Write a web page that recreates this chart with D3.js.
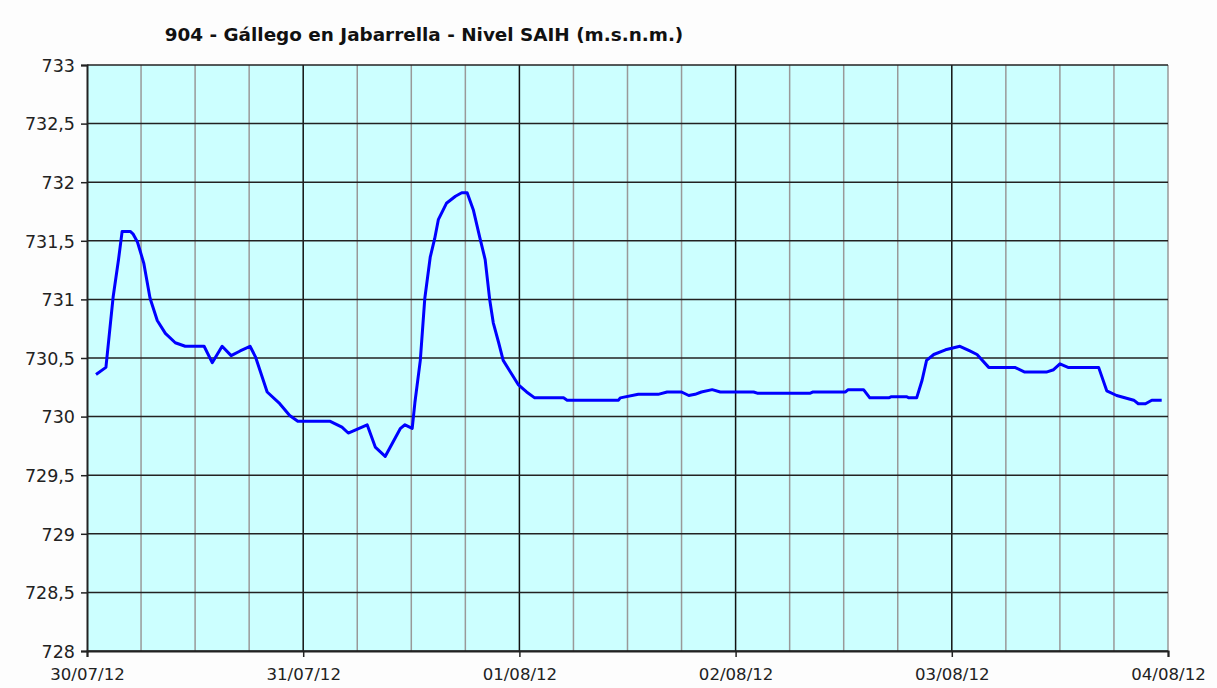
<!DOCTYPE html>
<html lang="es">
<head>
    <meta charset="UTF-8">
    <script src="https://cdn.jsdelivr.net/npm/d3@7"></script>
    <style>
        * { margin: 0; padding: 0; }
        body { background-color: #fdfdfd; font-family: "DejaVu Sans", Verdana, sans-serif; }
        svg { display: block; }
        .title { font-weight: bold; font-size: 18.4px; fill: #111; }
        .tick text { font-size: 16.6px; fill: #222; }
        .yax .tick text { font-size: 17.5px; }
    </style>
    <title>904 - Gállego en Jabarrella - Nivel SAIH</title>
</head>
<body>
<div id="chart"></div>
<script>
    // horas desde 30/07/12 00:00 y nivel (m.s.n.m.)
    var hours = [1.0, 2.1, 2.9, 3.5, 3.9, 4.8, 5.1, 5.6, 6.3, 7.0, 7.8, 8.7, 9.8, 10.9, 13.0, 13.9,
        15.0, 16.0, 17.0, 18.1, 18.7, 20.0, 21.4, 22.5, 23.4, 27.0, 28.3, 29.0, 31.1, 32.0, 33.1,
        34.8, 35.3, 36.1, 36.4, 37.0, 37.5, 38.1, 38.6, 39.0, 39.9, 40.9, 41.6, 42.2, 42.9, 43.6,
        44.2, 44.7, 45.1, 45.7, 46.2, 47.0, 47.9, 48.8, 49.7, 52.9, 53.3, 59.0, 59.2, 61.2, 63.4,
        64.4, 66.0, 66.8, 67.5, 68.2, 69.4, 70.3, 74.0, 74.4, 80.3, 80.6, 84.2, 84.5, 86.2, 86.9,
        89.0, 89.3, 91.0, 91.2, 92.1, 92.7, 93.2, 94.0, 95.3, 96.9, 98.0, 98.8, 100.1, 103.0,
        104.1, 106.5, 107.3, 108.0, 108.9, 112.3, 113.2, 114.3, 116.2, 116.7, 117.5, 118.2, 119.3];
    var levels = [730.36, 730.42, 731.02, 731.34, 731.58, 731.58, 731.56, 731.49, 731.31, 731.01,
        730.82, 730.71, 730.63, 730.60, 730.60, 730.46, 730.60, 730.52, 730.56, 730.60, 730.51,
        730.21, 730.11, 730.01, 729.96, 729.96, 729.91, 729.86, 729.93, 729.74, 729.66, 729.90,
        729.93, 729.90, 730.12, 730.48, 731.01, 731.36, 731.52, 731.68, 731.82, 731.88, 731.91,
        731.91, 731.76, 731.53, 731.34, 731.00, 730.80, 730.63, 730.48, 730.38, 730.27, 730.21,
        730.16, 730.16, 730.14, 730.14, 730.16, 730.19, 730.19, 730.21, 730.21, 730.18, 730.19,
        730.21, 730.23, 730.21, 730.21, 730.20, 730.20, 730.21, 730.21, 730.23, 730.23, 730.16,
        730.16, 730.17, 730.17, 730.16, 730.16, 730.31, 730.48, 730.53, 730.57, 730.60, 730.56,
        730.53, 730.42, 730.42, 730.38, 730.38, 730.40, 730.45, 730.42, 730.42, 730.22, 730.18,
        730.14, 730.11, 730.11, 730.14, 730.14];
    var yTicks = [728, 728.5, 729, 729.5, 730, 730.5, 731, 731.5, 732, 732.5, 733];
    var titleText = "904 - Gállego en Jabarrella - Nivel SAIH (m.s.n.m.)";

    var w = 1217, h = 688;
    var mLeft = 87, mRight = 1168, mTop = 65, mBottom = 651;

    var start = new Date(2012, 6, 30);
    var end = new Date(2012, 7, 4);

    var data = hours.map(function(hr, i) {
        return { date: new Date(start.getTime() + hr * 3600000), v: levels[i] };
    });

    var xScale = d3.scaleTime().domain([start, end]).range([mLeft, mRight]);
    var yScale = d3.scaleLinear().domain([728, 733]).range([mBottom, mTop]);

    var svg = d3.select("#chart").append("svg")
        .attr("width", w)
        .attr("height", h);

    // fondo del area de grafico
    svg.append("rect")
        .attr("x", mLeft).attr("y", mTop)
        .attr("width", mRight - mLeft).attr("height", mBottom - mTop)
        .attr("fill", "#ccffff");

    // lineas verticales cada 6 horas (grises) y cada dia (negras)
    var sixHours = d3.timeHour.every(6).range(start, end);
    svg.append("g").selectAll("line")
        .data(sixHours.filter(function(d) { return d.getHours() !== 0; }))
        .enter().append("line")
        .attr("x1", function(d) { return xScale(d); })
        .attr("x2", function(d) { return xScale(d); })
        .attr("y1", mTop).attr("y2", mBottom)
        .attr("stroke", "#999").attr("stroke-width", 1.5);

    svg.append("line")
        .attr("x1", mRight).attr("x2", mRight).attr("y1", mTop).attr("y2", mBottom)
        .attr("stroke", "#999").attr("stroke-width", 1.5);

    svg.append("g").selectAll("line")
        .data(d3.timeDay.range(d3.timeDay.offset(start, 1), end))
        .enter().append("line")
        .attr("x1", function(d) { return xScale(d); })
        .attr("x2", function(d) { return xScale(d); })
        .attr("y1", mTop).attr("y2", mBottom)
        .attr("stroke", "#111").attr("stroke-width", 1.5);

    // lineas horizontales
    svg.append("g").selectAll("line")
        .data(yTicks)
        .enter().append("line")
        .attr("x1", mLeft).attr("x2", mRight)
        .attr("y1", function(d) { return yScale(d); })
        .attr("y2", function(d) { return yScale(d); })
        .attr("stroke", "#222").attr("stroke-width", 1.5);

    // serie
    var line = d3.line()
        .x(function(d) { return xScale(d.date); })
        .y(function(d) { return yScale(d.v); });

    svg.append("path")
        .datum(data)
        .attr("d", line)
        .attr("fill", "none")
        .attr("stroke", "#0000ff")
        .attr("stroke-width", 3)
        .attr("stroke-linejoin", "round");

    // ejes
    var yAxis = d3.axisLeft(yScale)
        .tickValues(yTicks)
        .tickSize(6)
        .tickPadding(6)
        .tickFormat(function(d) { return String(d).replace(".", ","); });

    var xAxis = d3.axisBottom(xScale)
        .ticks(d3.timeDay.every(1))
        .tickSize(6)
        .tickPadding(11)
        .tickFormat(d3.timeFormat("%d/%m/%y"));

    var gy = svg.append("g")
        .attr("class", "yax")
        .attr("transform", "translate(" + mLeft + ",0)")
        .call(yAxis);

    var gx = svg.append("g")
        .attr("transform", "translate(0," + mBottom + ")")
        .call(xAxis);

    [gx, gy].forEach(function(g) {
        g.attr("font-family", null).attr("font-size", null);
        g.select(".domain").attr("stroke", "#222").attr("stroke-width", 2);
        g.selectAll(".tick line").attr("stroke", "#222").attr("stroke-width", 1.5);
    });
    gy.selectAll(".tick text").attr("dy", "0.36em");

    svg.append("text")
        .attr("class", "title")
        .attr("x", 424)
        .attr("y", 41)
        .attr("text-anchor", "middle")
        .text(titleText);
</script>
</body>
</html>
